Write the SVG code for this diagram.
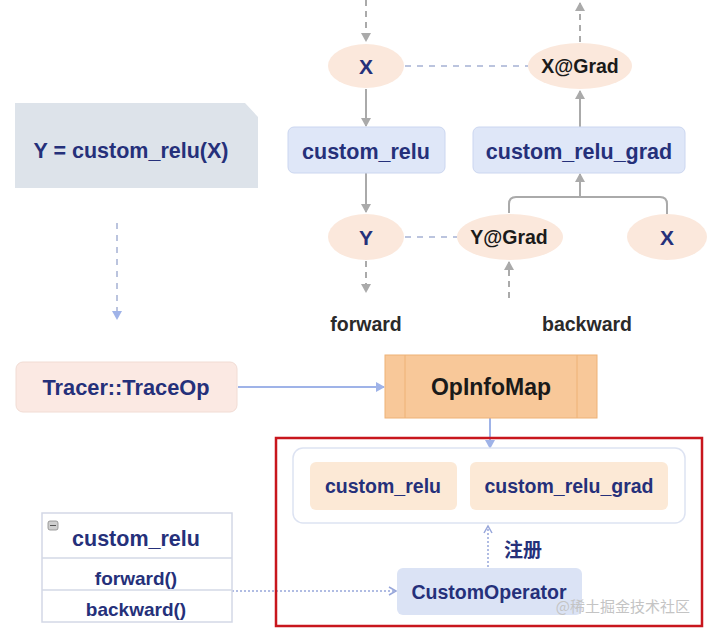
<svg xmlns="http://www.w3.org/2000/svg" width="709" height="633" viewBox="0 0 709 633">
<style>
.t{font-family:"Liberation Sans",Arial,sans-serif;font-weight:bold;text-anchor:middle}
.navy{fill:#25307a}
.blk{fill:#1a1a1a}
.ell{fill:#fbe8dc}
.bbox{fill:#dfe7f8;stroke:#cbd6f0;stroke-width:1}
.gray{stroke:#aaaaaa;stroke-width:2;fill:none}
.grayd{stroke:#aaaaaa;stroke-width:2;fill:none;stroke-dasharray:6 5}
.blued{stroke:#a5b1d3;stroke-width:1.5;fill:none;stroke-dasharray:6 6}
.blue{stroke:#9fb3e8;stroke-width:2;fill:none}
.dot{stroke:#97a6da;stroke-width:1.5;fill:none;stroke-dasharray:2 2}
</style>
<defs>
<marker id="ag" markerWidth="10" markerHeight="10" refX="8" refY="5" orient="auto" markerUnits="userSpaceOnUse"><path d="M0,0 L9,5 L0,10 z" fill="#aaaaaa"/></marker>
<marker id="ab" markerWidth="10" markerHeight="10" refX="8" refY="5" orient="auto" markerUnits="userSpaceOnUse"><path d="M0,0 L9,5 L0,10 z" fill="#9fb3e8"/></marker>
<marker id="ao" markerWidth="10" markerHeight="10" refX="8" refY="5" orient="auto" markerUnits="userSpaceOnUse"><path d="M1,1 L8,5 L1,9" fill="none" stroke="#97a6da" stroke-width="1.5"/></marker>
</defs>
<rect width="709" height="633" fill="#ffffff"/>

<g id="connectors">
  <path class="grayd" d="M366,0 L366,41" marker-end="url(#ag)"/>
  <path class="grayd" d="M580,42 L580,3" marker-end="url(#ag)"/>
  <path class="blued" d="M405,66 L528,66"/>
  <path class="gray" d="M366,89 L366,126" marker-end="url(#ag)"/>
  <path class="gray" d="M580,127 L580,91" marker-end="url(#ag)"/>
  <path class="gray" d="M366,173 L366,212" marker-end="url(#ag)"/>
  <path class="gray" d="M509,213 L509,204 Q509,197 516,197 L660,197 Q667,197 667,204 L667,214"/>
  <path class="gray" d="M580,197 Q580,189 580,174" marker-end="url(#ag)"/>
  <path class="blued" d="M405,237 L457,237"/>
  <path class="grayd" d="M366,261 L366,292" marker-end="url(#ag)"/>
  <path class="grayd" d="M509,298 L509,262" marker-end="url(#ag)"/>
  <path class="blued" d="M117,223 L117,319" marker-end="url(#ab)"/>
  <path class="blue" d="M238,387 L384,387" marker-end="url(#ab)"/>
  <path class="blue" d="M490,418 L490,448" marker-end="url(#ab)"/>
  <path class="dot" d="M488,567 L488,526" marker-end="url(#ao)"/>
  <path class="dot" d="M232,591 L396,591" marker-end="url(#ao)"/>
</g>

<g id="X_top"><ellipse class="ell" cx="366" cy="66" rx="38" ry="22"/><text class="t navy" x="366" y="74" font-size="21">X</text></g>
<g id="XGrad"><ellipse class="ell" cx="580" cy="66" rx="52" ry="23"/><text class="t blk" x="580" y="73" font-size="19.5">X@Grad</text></g>
<g id="custom_relu_top"><rect class="bbox" x="288" y="127" width="157" height="46" rx="6"/><text class="t navy" x="366" y="159" font-size="21.5">custom_relu</text></g>
<g id="custom_relu_grad_top"><rect class="bbox" x="473" y="127" width="212" height="46" rx="6"/><text class="t navy" x="579" y="159" font-size="21.5">custom_relu_grad</text></g>
<g id="Y"><ellipse class="ell" cx="366" cy="237" rx="38" ry="23"/><text class="t navy" x="366" y="245" font-size="21">Y</text></g>
<g id="YGrad"><ellipse class="ell" cx="510" cy="237" rx="53" ry="23"/><text class="t blk" x="509" y="244" font-size="19.5">Y@Grad</text></g>
<g id="X_right"><ellipse class="ell" cx="667" cy="237" rx="40" ry="23"/><text class="t navy" x="667" y="245" font-size="21">X</text></g>
<g id="labels">
  <text class="t" fill="#2a2a2a" x="366" y="331" font-size="19.5">forward</text>
  <text class="t" fill="#2a2a2a" x="587" y="331" font-size="19.5">backward</text>
</g>

<g id="note"><path d="M15,103 L245,103 L258,117 L258,188 L15,188 Z" fill="#dde3ea"/><text class="t navy" x="131" y="158" font-size="21.5">Y = custom_relu(X)</text></g>

<g id="tracer"><rect x="16" y="362" width="221" height="50" rx="7" fill="#fbe9e3" stroke="#f1dcd4"/><text class="t navy" x="126" y="395" font-size="21.5" textLength="167" lengthAdjust="spacingAndGlyphs">Tracer::TraceOp</text></g>
<g id="opinfomap"><rect x="385" y="355" width="212" height="63" fill="#f8c899" stroke="#eeb277"/><line x1="405" y1="355" x2="405" y2="418" stroke="#eeb277"/><line x1="577" y1="355" x2="577" y2="418" stroke="#eeb277"/><text class="t blk" x="491" y="395" font-size="23">OpInfoMap</text></g>

<g id="red_region"><rect x="276" y="438" width="426" height="188" fill="none" stroke="#c8161d" stroke-width="2.5"/></g>
<g id="registry"><rect x="293" y="448" width="392" height="75" rx="10" fill="#ffffff" stroke="#dde3f2" stroke-width="1.5"/></g>
<g id="reg_custom_relu"><rect x="310" y="462" width="147" height="48" rx="6" fill="#fce9d6"/><text class="t navy" x="383" y="493" font-size="19.5">custom_relu</text></g>
<g id="reg_custom_relu_grad"><rect x="470" y="462" width="198" height="48" rx="6" fill="#fce9d6"/><text class="t navy" x="569" y="493" font-size="19.5">custom_relu_grad</text></g>
<g id="reg_label"><text class="t navy" x="523" y="557" font-size="19" style="font-family:'Noto Sans CJK SC',sans-serif">注册</text></g>
<g id="customoperator"><rect x="397" y="568" width="185" height="47" rx="6" fill="#dbe3f5"/><text class="t navy" x="489" y="599" font-size="19.5">CustomOperator</text></g>

<g id="uml">
  <rect x="42" y="513" width="190" height="109" fill="#ffffff" stroke="#d3d8e6" stroke-width="1.5"/>
  <line x1="42" y1="558" x2="232" y2="558" stroke="#d3d8e6" stroke-width="1.5"/>
  <line x1="42" y1="590" x2="232" y2="590" stroke="#d3d8e6" stroke-width="1.5"/>
  <rect x="48" y="521" width="10" height="9" rx="2" fill="#cfcfcf" stroke="#888" stroke-width="0.8"/>
  <line x1="50" y1="525.5" x2="56" y2="525.5" stroke="#555" stroke-width="1"/>
  <text class="t navy" x="136" y="546" font-size="21.5">custom_relu</text>
  <text class="t navy" x="136" y="585" font-size="19">forward()</text>
  <text class="t navy" x="136" y="616" font-size="19">backward()</text>
</g>

<g id="watermark"><text x="690" y="612" font-size="15" fill="#c4c4c4" text-anchor="end" style="font-family:'Noto Sans CJK SC',sans-serif">@稀土掘金技术社区</text></g>
</svg>
